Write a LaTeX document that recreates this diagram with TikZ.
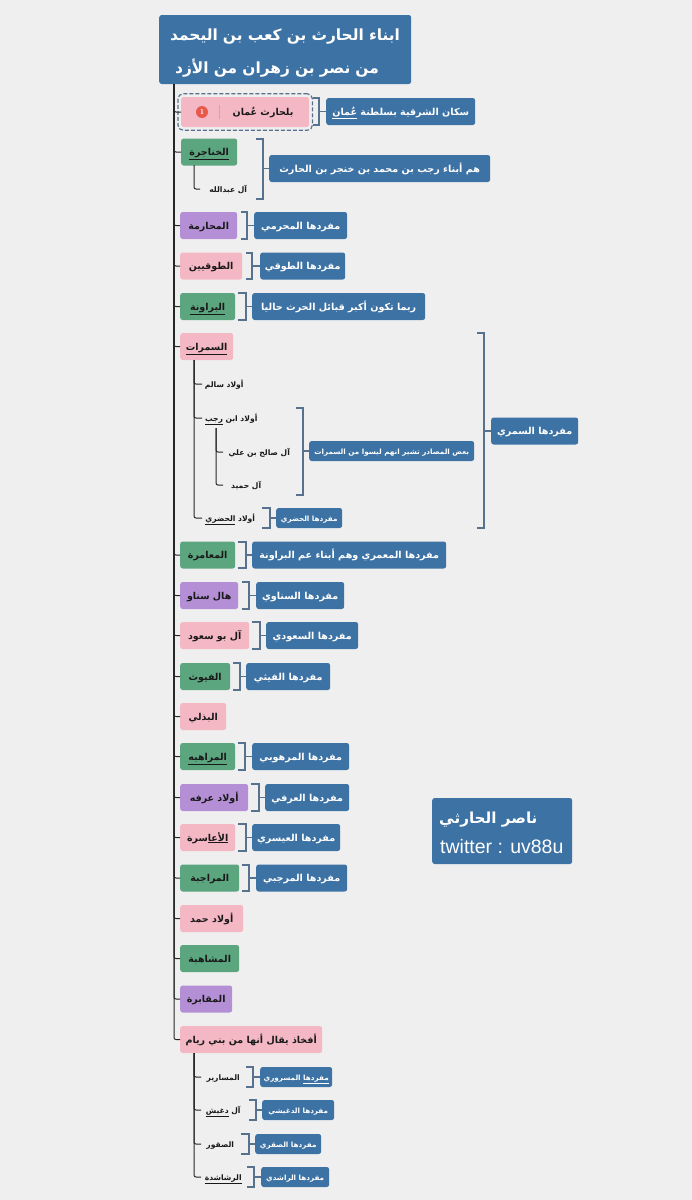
\documentclass[tikz,border=0pt]{standalone}
\usepackage{fontspec}
\usetikzlibrary{fit}
\setmainfont{Liberation Sans}
\newfontfamily\arabicfont[Script=Arabic]{DejaVu Sans}
\TeXXeTstate=1

\definecolor{pagebg}{HTML}{EFEFEF}
\definecolor{mapblue}{HTML}{3D72A4}
\definecolor{mappink}{HTML}{F4B8C4}
\definecolor{mapgreen}{HTML}{5BA57F}
\definecolor{mappurple}{HTML}{B48FD6}
\definecolor{bracegray}{HTML}{56728F}
\definecolor{badgered}{HTML}{E8594C}

\newcommand\artxt[1]{\beginR #1\endR}
\newcommand\arul[1]{\underline{\beginR #1\endR}}
\newcommand\arsize[1]{\arabicfont\bfseries\fontsize{#1}{#1}\selectfont}

% summary bracket: target box, x of ticks, x of spine, top, bottom
\newcommand\summark[5]{%
  \coordinate (#1top) at (#3,#4);
  \coordinate (#1bot) at (#3,#5);
  \draw[brace] (#2,#4) -- (#1top) -- (#1bot) -- (#2,#5);
  \draw[brace] (#1.west) -- (#1.west -| #1top);
}

\tikzset{
  box/.style={rectangle, rounded corners=2.5pt, anchor=west, minimum height=27pt,
    inner sep=0pt, text height=8.6pt, text depth=1.4pt, text=black!90, font=\arsize{9.5}},
  pinkbox/.style={box, fill=mappink},
  greenbox/.style={box, fill=mapgreen},
  purplebox/.style={box, fill=mappurple},
  bluebox/.style={box, fill=mapblue, text=white, font=\arsize{9.6}},
  smallblue/.style={bluebox, minimum height=20pt, text height=7pt, text depth=1pt, font=\arsize{7.2}},
  sub/.style={anchor=west, minimum height=14pt, inner sep=0pt, text height=7pt, text depth=1pt, text=black!90, font=\arsize{7.6}},
  brace/.style={bracegray, line width=1.2pt},
  stem/.style={black!85, line width=1pt, rounded corners=2pt},
}

\begin{document}
\begin{tikzpicture}[x=1pt,y=-1pt]
  % Page
  \fill[pagebg] (0,0) rectangle (692,1200);
  \useasboundingbox (0,0) rectangle (692,1200);

  % Title
  \node[rectangle, rounded corners=2.5pt, fill=mapblue, text=white, anchor=west, inner sep=0pt, minimum width=252pt, minimum height=69pt, text width=230pt, align=left, font=\arsize{15.4}] (title) at (159,49.5)
    {\rule{0pt}{19pt}\artxt{ابناء الحارث بن كعب بن اليحمد}\\[13pt]\hspace*{5pt}\artxt{من نصر بن زهران من الأزد}};
  \coordinate (root) at (174,84);

  % Tribes, top to bottom
  \node[pinkbox, minimum width=128pt, minimum height=30pt] (oman) at (181,112) {};
  \node[bluebox, minimum width=149pt] (omanS) at (326,111.5) {\artxt{سكان الشرقية بسلطنة \arul{عُمان}}};
  \node[greenbox, minimum width=56pt] (khanajira) at (181,152) {\arul{الخناجرة}};
  \node[bluebox, minimum width=221pt] (khanajiraS) at (269,168.5) {\artxt{هم أبناء رجب بن محمد بن خنجر بن الحارث}};
  \node[purplebox, minimum width=57pt] (maharima) at (180,225.5) {\artxt{المحارمة}};
  \node[bluebox, minimum width=93pt] (maharimaS) at (254,225.5) {\artxt{مفردها المحرمي}};
  \node[pinkbox, minimum width=62pt] (tawqiyin) at (180,266) {\artxt{الطوقيين}};
  \node[bluebox, minimum width=85pt] (tawqiyinS) at (260,266) {\artxt{مفردها الطوقي}};
  \node[greenbox, minimum width=55pt] (barawina) at (180,306.5) {\arul{البراونة}};
  \node[bluebox, minimum width=173pt] (barawinaS) at (252,306.5) {\artxt{ربما تكون أكبر قبائل الحرث حاليا}};
  \node[pinkbox, minimum width=53pt] (samarat) at (180,346.5) {\arul{السمرات}};
  \node[bluebox, minimum width=87pt] (samaratS) at (491,431) {\artxt{مفردها السمري}};
  \node[greenbox, minimum width=55pt] (maamira) at (180,555) {\artxt{المعامرة}};
  \node[bluebox, minimum width=194pt] (maamiraS) at (252,555) {\artxt{مفردها المعمري وهم أبناء عم البراونة}};
  \node[purplebox, minimum width=58pt] (sanaw) at (180,595.5) {\artxt{هال سناو}};
  \node[bluebox, minimum width=88pt] (sanawS) at (256,595.5) {\artxt{مفردها السناوي}};
  \node[pinkbox, minimum width=69pt] (busaud) at (180,635.5) {\artxt{آل بو سعود}};
  \node[bluebox, minimum width=92pt] (busaudS) at (266,635.5) {\artxt{مفردها السعودي}};
  \node[greenbox, minimum width=50pt] (fuyuth) at (180,676.5) {\artxt{الفيوث}};
  \node[bluebox, minimum width=84pt] (fuyuthS) at (246,676.5) {\artxt{مفردها الفيثي}};
  \node[pinkbox, minimum width=46pt] (badhli) at (180,716.5) {\artxt{البذلي}};
  \node[greenbox, minimum width=55pt] (marahiba) at (180,756.5) {\arul{المراهبه}};
  \node[bluebox, minimum width=97pt] (marahibaS) at (252,756.5) {\artxt{مفردها المرهوبي}};
  \node[purplebox, minimum width=68pt] (arfa) at (180,797.5) {\artxt{أولاد عرفه}};
  \node[bluebox, minimum width=84pt] (arfaS) at (265,797.5) {\artxt{مفردها العرفي}};
  \node[pinkbox, minimum width=55pt] (aasira) at (180,837.5) {\artxt{\arul{الأعا}سرة}};
  \node[bluebox, minimum width=88pt] (aasiraS) at (252,837.5) {\artxt{مفردها العيسري}};
  \node[greenbox, minimum width=59pt] (marajiba) at (180,878) {\artxt{المراجبة}};
  \node[bluebox, minimum width=91pt] (marajibaS) at (256,878) {\artxt{مفردها المرجبي}};
  \node[pinkbox, minimum width=63pt] (hamad) at (180,918.5) {\artxt{أولاد حمد}};
  \node[greenbox, minimum width=59pt] (mashahiba) at (180,958.5) {\artxt{المشاهبة}};
  \node[purplebox, minimum width=52pt] (maqabira) at (180,999) {\artxt{المقابرة}};
  \node[pinkbox, minimum width=142pt] (afkhadh) at (180,1039.5) {\artxt{أفخاذ يقال أنها من بني ريام}};

  % Selected tribe with its badge
  \node[box, anchor=center] (omanT) at (263,112) {\artxt{بلحارث عُمان}};
  \node[circle, fill=badgered, minimum size=12pt, inner sep=0pt, text=white, font=\sffamily\bfseries\fontsize{7}{7}\selectfont] (badge) at (202,112) {1};
  \draw[black!30, line width=0.6pt] (219,105) -- (219,119);
  \node[draw=bracegray, dash pattern=on 4pt off 2pt, line width=1.2pt, rounded corners=5pt, inner sep=3pt, fit=(oman)] (omanF) {};

  % Sub-groups
  \node[sub, minimum width=56pt] (abdullah) at (200,189) {\artxt{آل عبدالله}};
  \node[sub, minimum width=44pt] (salim) at (202,384) {\artxt{أولاد سالم}};
  \node[sub, minimum width=58pt] (rajab) at (202,418) {\artxt{أولاد ابن \arul{رجب}}};
  \node[sub, minimum width=72pt] (salih) at (223,452) {\artxt{آل صالح بن علي}};
  \node[sub, minimum width=46pt] (humaid) at (223,485) {\artxt{آل حميد}};
  \node[sub, minimum width=56pt] (hadri) at (202,518) {\artxt{أولاد \arul{الحضري}}};
  \node[smallblue, minimum width=165pt] (rajabS) at (309,451) {\artxt{بعض المصادر تشير انهم ليسوا من السمرات}};
  \node[smallblue, minimum width=66pt] (hadriS) at (276,518) {\artxt{مفردها الحضري}};

  \node[sub, minimum width=44pt] (masarir) at (201,1077) {\artxt{المسارير}};
  \node[sub, minimum width=44pt] (dughaysh) at (201,1110) {\artxt{آل \arul{دغيش}}};
  \node[sub, minimum width=38pt] (suqur) at (201,1144) {\artxt{الصقور}};
  \node[sub, minimum width=44pt] (rashashida) at (201,1177) {\arul{الرشاشدة}};
  \node[smallblue, minimum width=72pt] (masarirS) at (260,1077) {\artxt{\arul{مفردها} المسروري}};
  \node[smallblue, minimum width=72pt] (dughayshS) at (262,1110) {\artxt{مفردها الدغيشي}};
  \node[smallblue, minimum width=66pt] (suqurS) at (255,1144) {\artxt{مفردها الصقري}};
  \node[smallblue, minimum width=68pt] (rashashidaS) at (261,1177) {\artxt{مفردها الراشدي}};

  % Credit
  \node[bluebox, minimum width=140pt, minimum height=66pt] (credit) at (432,831) {};
  \node[anchor=west, inner sep=0pt, text=white, font=\arsize{15.2}] (creditA) at (439,820) {\artxt{ناصر الحارثي}};
  \node[anchor=west, inner sep=0pt, text=white, font=\fontsize{19.5}{19.5}\selectfont] (creditB) at (440,847) {twitter : uv88u};

  % Trunk
  \draw[stem] (root) |- (oman.west);
  \draw[stem] (root) |- (khanajira.west);
  \draw[stem] (root) |- (maharima.west);
  \draw[stem] (root) |- (tawqiyin.west);
  \draw[stem] (root) |- (barawina.west);
  \draw[stem] (root) |- (samarat.west);
  \draw[stem] (root) |- (maamira.west);
  \draw[stem] (root) |- (sanaw.west);
  \draw[stem] (root) |- (busaud.west);
  \draw[stem] (root) |- (fuyuth.west);
  \draw[stem] (root) |- (badhli.west);
  \draw[stem] (root) |- (marahiba.west);
  \draw[stem] (root) |- (arfa.west);
  \draw[stem] (root) |- (aasira.west);
  \draw[stem] (root) |- (marajiba.west);
  \draw[stem] (root) |- (hamad.west);
  \draw[stem] (root) |- (mashahiba.west);
  \draw[stem] (root) |- (maqabira.west);
  \draw[stem] (root) |- (afkhadh.west);

  % Sub-group lines
  \coordinate (khanajiraR) at (194,165);
  \coordinate (samaratR) at (194,360);
  \coordinate (rajabR) at (216,428);
  \coordinate (afkhadhR) at (194,1053);
  \draw[stem] (khanajiraR) |- (abdullah.west);
  \draw[stem] (samaratR) |- (salim.west);
  \draw[stem] (samaratR) |- (rajab.west);
  \draw[stem] (samaratR) |- (hadri.west);
  \draw[stem] (rajabR) |- (salih.west);
  \draw[stem] (rajabR) |- (humaid.west);
  \draw[stem] (afkhadhR) |- (masarir.west);
  \draw[stem] (afkhadhR) |- (dughaysh.west);
  \draw[stem] (afkhadhR) |- (suqur.west);
  \draw[stem] (afkhadhR) |- (rashashida.west);

  % Summary brackets
  \summark{omanS}{313}{319}{98}{125}
  \summark{khanajiraS}{256}{263}{139}{199}
  \summark{maharimaS}{241}{247}{212}{239}
  \summark{tawqiyinS}{246}{252}{253}{279}
  \summark{barawinaS}{238}{246}{293}{320}
  \summark{samaratS}{477}{484}{333}{528}
  \summark{rajabS}{296}{303}{408}{495}
  \summark{hadriS}{262}{270}{508}{528}
  \summark{maamiraS}{238}{246}{542}{568}
  \summark{sanawS}{242}{249}{582}{609}
  \summark{busaudS}{252}{260}{622}{649}
  \summark{fuyuthS}{233}{240}{663}{690}
  \summark{marahibaS}{238}{245}{743}{770}
  \summark{arfaS}{251}{259}{784}{811}
  \summark{aasiraS}{238}{246}{824}{851}
  \summark{marajibaS}{242}{249}{865}{891}
  \summark{masarirS}{246}{253}{1067}{1087}
  \summark{dughayshS}{249}{256}{1100}{1120}
  \summark{suqurS}{241}{249}{1134}{1154}
  \summark{rashashidaS}{247}{254}{1167}{1187}
\end{tikzpicture}
\end{document}
